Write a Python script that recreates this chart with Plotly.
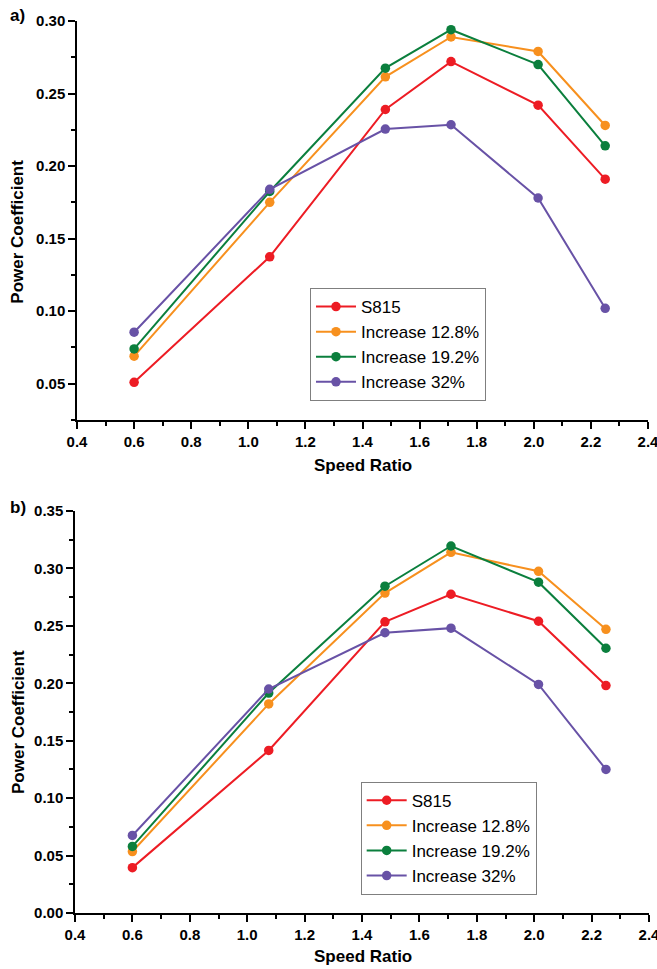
import plotly.graph_objects as go

# Speed ratio values at which the power coefficient was evaluated
speed_ratio = [0.6, 1.075, 1.48, 1.71, 2.015, 2.25]

series_names = ["S815", "Increase 12.8%", "Increase 19.2%", "Increase 32%"]
series_colors = ["#ED1C24", "#F7901E", "#0B7F3D", "#6852A6"]

# Panel a)
cp_a_s815 = [0.051, 0.1375, 0.239, 0.272, 0.242, 0.191]
cp_a_inc128 = [0.069, 0.175, 0.2615, 0.289, 0.279, 0.228]
cp_a_inc192 = [0.074, 0.1825, 0.2675, 0.294, 0.270, 0.214]
cp_a_inc32 = [0.0855, 0.184, 0.2255, 0.2285, 0.178, 0.102]

# Panel b)
cp_b_s815 = [0.0395, 0.1415, 0.2535, 0.2775, 0.254, 0.198]
cp_b_inc128 = [0.0535, 0.182, 0.2785, 0.314, 0.2975, 0.247]
cp_b_inc192 = [0.058, 0.1915, 0.2845, 0.3195, 0.288, 0.2305]
cp_b_inc32 = [0.0675, 0.195, 0.244, 0.248, 0.199, 0.125]

x_ticks = [0.4, 0.6, 0.8, 1.0, 1.2, 1.4, 1.6, 1.8, 2.0, 2.2, 2.4]
y_ticks_a = [0.05, 0.10, 0.15, 0.20, 0.25, 0.30]
y_ticks_b = [0.00, 0.05, 0.10, 0.15, 0.20, 0.25, 0.30, 0.35]

FONT = "Liberation Sans, Arial, sans-serif"

fig = go.Figure()

panel_a = [cp_a_s815, cp_a_inc128, cp_a_inc192, cp_a_inc32]
panel_b = [cp_b_s815, cp_b_inc128, cp_b_inc192, cp_b_inc32]

for name, color, ys in zip(series_names, series_colors, panel_a):
    fig.add_trace(go.Scatter(
        x=speed_ratio, y=ys, name=name, mode="lines+markers",
        line=dict(color=color, width=2),
        marker=dict(color=color, size=9.5),
        xaxis="x", yaxis="y", legend="legend",
    ))

for name, color, ys in zip(series_names, series_colors, panel_b):
    fig.add_trace(go.Scatter(
        x=speed_ratio, y=ys, name=name, mode="lines+markers",
        line=dict(color=color, width=2),
        marker=dict(color=color, size=9.5),
        xaxis="x2", yaxis="y2", legend="legend2",
    ))

tick_font = dict(family=FONT, size=15, color="black", weight="bold")

def x_axis(domain, anchor):
    return dict(
        domain=domain, anchor=anchor, range=[0.4, 2.4],
        tickvals=x_ticks, ticktext=[f"{v:.1f}" for v in x_ticks],
        ticks="outside", ticklen=7, tickwidth=1.5, tickcolor="black",
        minor=dict(dtick=0.1, tick0=0.4, ticks="outside", ticklen=4,
                   tickwidth=1.5, tickcolor="black", showgrid=False),
        showline=True, linecolor="black", linewidth=1.5,
        showgrid=False, zeroline=False, tickfont=tick_font,
        ticklabeloverflow="allow", automargin=False,
    )

def y_axis(domain, anchor, rng, ticks):
    return dict(
        domain=domain, anchor=anchor, range=rng,
        tickvals=ticks, ticktext=[f"{v:.2f}" for v in ticks],
        ticks="outside", ticklen=7, tickwidth=1.5, tickcolor="black",
        minor=dict(dtick=0.025, tick0=0, ticks="outside", ticklen=4,
                   tickwidth=1.5, tickcolor="black", showgrid=False),
        showline=True, linecolor="black", linewidth=1.5,
        showgrid=False, zeroline=False, tickfont=tick_font,
        ticklabeloverflow="allow", automargin=False,
    )

legend_style = dict(
    xanchor="left", yanchor="top",
    bgcolor="white", bordercolor="#7F7F7F", borderwidth=1,
    font=dict(family=FONT, size=17, color="black"),
    itemwidth=40, tracegroupgap=0,
)

title_font = dict(family=FONT, size=17, color="black", weight="bold")

annotations = [
    dict(text="Speed Ratio", x=0.501, y=0.5022, xref="paper", yref="paper",
         showarrow=False, font=title_font, xanchor="center", yanchor="middle"),
    dict(text="Speed Ratio", x=0.501, y=-0.0493, xref="paper", yref="paper",
         showarrow=False, font=title_font, xanchor="center", yanchor="middle"),
    dict(text="Power Coefficient", x=-0.0993, y=0.7638, xref="paper", yref="paper",
         showarrow=False, font=title_font, textangle=-90,
         xanchor="center", yanchor="middle"),
    dict(text="Power Coefficient", x=-0.0993, y=0.2141, xref="paper", yref="paper",
         showarrow=False, font=title_font, textangle=-90,
         xanchor="center", yanchor="middle"),
    dict(text="a)", x=-0.1167, y=1.0067, xref="paper", yref="paper",
         showarrow=False, font=title_font, xanchor="left", yanchor="middle"),
    dict(text="b)", x=-0.1167, y=0.455, xref="paper", yref="paper",
         showarrow=False, font=title_font, xanchor="left", yanchor="middle"),
]

fig.update_layout(
    width=657, height=969,
    margin=dict(l=75, r=8, t=21, b=56, autoexpand=False),
    paper_bgcolor="white", plot_bgcolor="white",
    font=dict(family=FONT, color="black"),
    xaxis=x_axis([0.0035, 0.9983], "y"),
    yaxis=y_axis([0.5527, 1.0], "x", [0.025, 0.30], y_ticks_a),
    xaxis2=x_axis([0.0, 1.0], "y2"),
    yaxis2=y_axis([0.0, 0.4507], "x2", [0.0, 0.35], y_ticks_b),
    legend=dict(x=0.4094, y=0.7007, **legend_style),
    legend2=dict(x=0.4977, y=0.1472, **legend_style),
    annotations=annotations,
    showlegend=True,
)

fig.write_html("out.html")
